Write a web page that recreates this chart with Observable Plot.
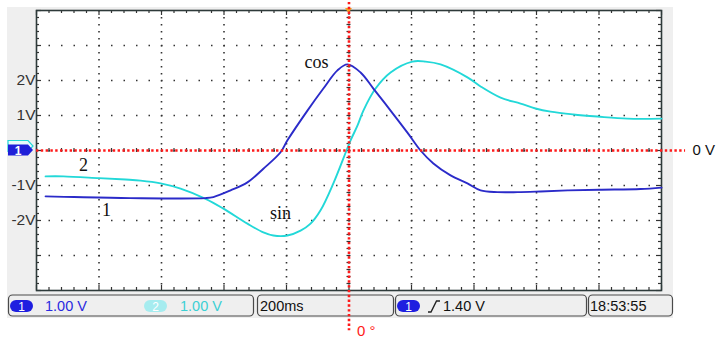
<!DOCTYPE html>
<html><head><meta charset="utf-8">
<script src="https://cdn.jsdelivr.net/npm/d3@7"></script>
<script src="https://cdn.jsdelivr.net/npm/@observablehq/plot@0.6"></script>
<style>body{margin:0;background:#fff} svg{display:block}</style>
</head><body><div id="chart"></div>
<script>
// Channel 1 (blue, "cos") — time in ms, voltage in V
const ch1Times = [-971,-880,-700,-460,-434,-379,-325,-274,-219,-197,-133,-82,-37,-5,37,78,133,187,229,270,325,379,421,475,539,613,700,800,933,1000];
const ch1Volts = [-1.31,-1.33,-1.36,-1.36,-1.33,-1.14,-0.91,-0.52,-0.05,0.29,1.14,1.77,2.29,2.46,2.23,1.77,1.14,0.51,0,-0.37,-0.71,-0.94,-1.14,-1.19,-1.19,-1.17,-1.14,-1.12,-1.10,-1.06];
// Channel 2 (cyan, "sin")
const ch2Times = [-971,-914,-800,-715,-667,-603,-539,-459,-402,-325,-274,-242,-197,-155,-123,-91,-50,-8,5,27,46,85,133,203,245,293,379,421,485,549,597,645,718,795,891,1000];
const ch2Volts = [-0.74,-0.74,-0.79,-0.83,-0.86,-0.94,-1.09,-1.38,-1.66,-2.09,-2.34,-2.43,-2.43,-2.29,-2.09,-1.71,-0.94,0,0.29,0.71,1.14,1.77,2.23,2.54,2.54,2.46,2.09,1.83,1.51,1.34,1.20,1.11,1.03,0.97,0.91,0.91];

const yTickValues = [2, 1, -1, -2];
const yTickLabels = ["2V", "1V", "-1V", "-2V"];

const curveLabels = ["cos", "sin", "2", "1"];
const curveLabelTimes = [-104, -219, -850, -776];
const curveLabelVolts = [2.51, -1.8, -0.43, -1.71];

const channelNames = ["1", "2"];
const channelScales = ["1.00 V", "1.00 V"];
const timeBase = "200ms";
const triggerLevel = "1.40 V";
const clockText = "18:53:55";
const zeroVoltLabel = "0 V";
const zeroPhaseLabel = "0 °";

const ch1 = ch1Times.map((t, i) => ({t, v: ch1Volts[i]}));
const ch2 = ch2Times.map((t, i) => ({t, v: ch2Volts[i]}));
const labels = curveLabels.map((s, i) => ({s, t: curveLabelTimes[i], v: curveLabelVolts[i]}));
const yTicks = yTickValues.map((v, i) => ({v, s: yTickLabels[i]}));

const majorX = d3.range(-5, 6).map(i => i * 200);
const minorX = d3.range(-25, 26).map(i => i * 40);
const majorY = d3.range(-4, 5);
const minorY = d3.range(-20, 21).map(i => i / 5);
const PXT = 3.2;      // ms per pixel
const PXV = 1 / 35;   // V per pixel
const isMajX = d => Math.abs(d % 200) < 1e-6;
const isMajY = d => Math.abs(d - Math.round(d)) < 1e-6;
const gridCol = "#333";
const blue = "#2b2bc9";
const cyan = "#22d8d8";
const red = "#ff1a1a";

const plot = Plot.plot({
  width: 718, height: 344,
  marginLeft: 36, marginRight: 57, marginTop: 10, marginBottom: 54,
  x: {domain: [-1000, 1000], axis: null},
  y: {domain: [-4, 4], axis: null},
  style: {background: "transparent", overflow: "visible"},
  marks: [
    Plot.frame({fill: "white", stroke: "none"}),
    Plot.ruleX(majorX.filter(d => Math.abs(d) < 1000), {stroke: gridCol, strokeWidth: 1.6, strokeDasharray: "1.5 5.5"}),
    Plot.ruleY(majorY.filter(d => Math.abs(d) < 4), {stroke: gridCol, strokeWidth: 1.6, strokeDasharray: "1.5 11"}),
    // border ticks
    Plot.ruleX(minorX, {y1: -4, y2: d => -4 + (isMajX(d) ? 5 : 3) * PXV, stroke: gridCol, strokeWidth: 1.2}),
    Plot.ruleX(minorX, {y1: 4, y2: d => 4 - (isMajX(d) ? 5 : 3) * PXV, stroke: gridCol, strokeWidth: 1.2}),
    Plot.ruleY(minorY, {x1: -1000, x2: d => -1000 + (isMajY(d) ? 5 : 3) * PXT, stroke: gridCol, strokeWidth: 1.2}),
    Plot.ruleY(minorY, {x1: 1000, x2: d => 1000 - (isMajY(d) ? 5 : 3) * PXT, stroke: gridCol, strokeWidth: 1.2}),
    // center ticks
    Plot.ruleY(minorY, {x1: -2 * PXT, x2: 2 * PXT, stroke: gridCol, strokeWidth: 1.2}),
    Plot.ruleX(minorX, {y1: -2 * PXV, y2: 2 * PXV, stroke: gridCol, strokeWidth: 1.2}),
    Plot.frame({stroke: "#2e3a3a", strokeWidth: 1.6}),
    // traces
    Plot.line(ch2, {x: "t", y: "v", stroke: cyan, strokeWidth: 1.9, curve: "catmull-rom"}),
    Plot.line(ch1, {x: "t", y: "v", stroke: blue, strokeWidth: 1.9, curve: "catmull-rom"}),
    // y labels
    Plot.text(yTicks, {x: -1000, y: "v", text: "s", textAnchor: "end", dx: -1, fontSize: 15.5, fill: "#333", fontFamily: "Liberation Sans, Arial, sans-serif"}),
    // curve labels
    Plot.text(labels, {x: "t", y: "v", text: "s", fontSize: 18, fill: "#111", fontFamily: "Liberation Serif, Times New Roman, serif"}),
    // red reference lines
    Plot.ruleY([0], {x1: -1000, x2: 1077, stroke: red, strokeWidth: 2.6, strokeDasharray: "2.4 2.4"}),
    Plot.ruleX([0], {y1: 4.23, y2: -5.15, stroke: red, strokeWidth: 2.6, strokeDasharray: "2.4 2.4"}),
    Plot.text([zeroVoltLabel], {x: 1077, y: 0, text: d => d, textAnchor: "start", dx: 7, fontSize: 15, fill: "#111", fontFamily: "Liberation Sans, Arial, sans-serif"}),
    Plot.text([zeroPhaseLabel], {x: 0, y: -5.15, text: d => d, textAnchor: "start", dx: 8, dy: 0, fontSize: 15, fill: red, fontFamily: "Liberation Sans, Arial, sans-serif"})
  ]
});

document.getElementById("chart").appendChild(plot);
const svg = d3.select(plot);
const sx = plot.scale("x"), sy = plot.scale("y");
const pLeft = sx.apply(-1000), pRight = sx.apply(1000), pTop = sy.apply(4), pBottom = sy.apply(-4);
const y0 = sy.apply(0), x0 = sx.apply(0);

// gray scope background
svg.insert("rect", ":first-child")
  .attr("x", pLeft - 29).attr("y", pTop - 3)
  .attr("width", pRight - pLeft + 41).attr("height", pBottom - pTop + 31)
  .attr("fill", "#efefef");

// trigger marker at top
svg.append("path")
  .attr("d", `M${x0 - 3.5},${pTop - 2} L${x0 + 3.5},${pTop - 2} L${x0},${pTop + 3} Z`)
  .attr("fill", "#f5a623");

// channel markers on the left
const marker = (yc) => `M${pLeft - 28},${yc - 5.5} L${pLeft - 8},${yc - 5.5} L${pLeft - 3},${yc} L${pLeft - 8},${yc + 5.5} L${pLeft - 28},${yc + 5.5} Z`;
svg.append("path").attr("d", marker(y0 - 4)).attr("fill", "#e8fbfb").attr("stroke", cyan).attr("stroke-width", 1.2);
svg.append("path").attr("d", marker(y0)).attr("fill", "#1f1fd8");
svg.append("text").attr("x", pLeft - 18).attr("y", y0 + 4.5).attr("text-anchor", "middle")
  .attr("fill", "white").attr("font-size", 12).attr("font-family", "Liberation Sans, Arial, sans-serif").attr("font-weight", "bold").text(channelNames[0]);

// status bar
const sb = svg.append("g").attr("font-family", "Liberation Sans Narrow, Arial Narrow, Liberation Sans, sans-serif")
  .attr("font-size", 14.5).attr("text-anchor", "start");
const boxTop = pBottom + 5, boxH = 21;
const boxes = [[8, 253], [257, 393], [395, 586], [588, 672]];
for (const [a, b] of boxes) {
  sb.append("rect").attr("x", a + 0.5).attr("y", boxTop).attr("width", b - a).attr("height", boxH)
    .attr("rx", 4).attr("fill", "#efefef").attr("stroke", "#4a4a4a").attr("stroke-width", 1.2);
}
const pill = (x, fill, label) => {
  sb.append("rect").attr("x", x).attr("y", boxTop + 5).attr("width", 23).attr("height", 12).attr("rx", 6).attr("fill", fill);
  sb.append("text").attr("x", x + 11.5).attr("y", boxTop + 15.5).attr("text-anchor", "middle").attr("fill", "white")
    .attr("font-size", 12).text(label);
};
const ty = boxTop + 16;
pill(10, "#1f1fe0", channelNames[0]);
sb.append("text").attr("x", 45).attr("y", ty).attr("fill", "#2a2ae0").text(channelScales[0]);
pill(144, "#a6ecef", channelNames[1]);
sb.append("text").attr("x", 180).attr("y", ty).attr("fill", "#3cd0d4").text(channelScales[1]);
sb.append("text").attr("x", 260).attr("y", ty).attr("fill", "#111").text(timeBase);
pill(397, "#1f1fe0", channelNames[0]);
sb.append("path").attr("d", `M428,${boxTop + 17} L431,${boxTop + 17} L436.5,${boxTop + 6} L440,${boxTop + 6}`)
  .attr("fill", "none").attr("stroke", "#222").attr("stroke-width", 1.4);
sb.append("text").attr("x", 443).attr("y", ty).attr("fill", "#111").text(triggerLevel);
sb.append("text").attr("x", 590).attr("y", ty).attr("fill", "#111").text(clockText);

// keep red lines on top of the status bar
svg.selectAll("g[aria-label='rule']").filter(function(){ return this.getAttribute("stroke") === red; }).raise();
</script></body></html>
